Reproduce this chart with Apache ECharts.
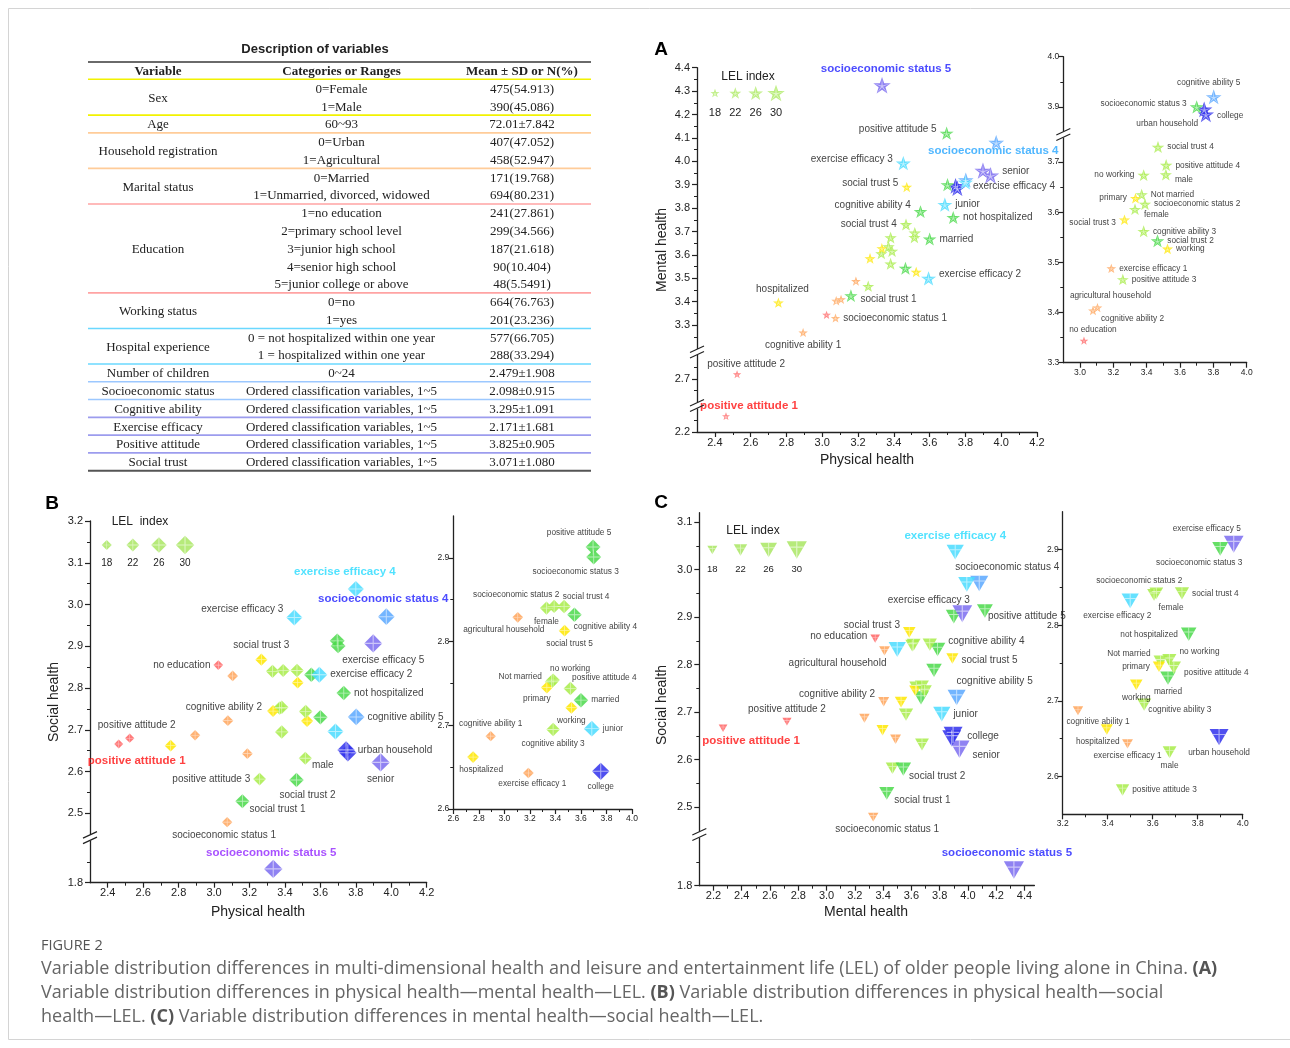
<!DOCTYPE html>
<html><head><meta charset="utf-8">
<script src="https://cdn.jsdelivr.net/npm/echarts@6/dist/echarts.min.js"></script>
<style>html,body{margin:0;padding:0;background:#fff}#c{width:1290px;height:1048px}</style>
</head><body><div id="c"></div><script>
// ---------------- DATA ----------------
const categories = ['female','male','urban household','agricultural household','married','Not married','no education','primary','junior','senior','college','working','no working','hospitalized','not hospitalized',
 'socioeconomic status 1','socioeconomic status 2','socioeconomic status 3','socioeconomic status 4','socioeconomic status 5',
 'cognitive ability 1','cognitive ability 2','cognitive ability 3','cognitive ability 4','cognitive ability 5',
 'exercise efficacy 1','exercise efficacy 2','exercise efficacy 3','exercise efficacy 4','exercise efficacy 5',
 'positive attitude 1','positive attitude 2','positive attitude 3','positive attitude 4','positive attitude 5',
 'social trust 1','social trust 2','social trust 3','social trust 4','social trust 5'];
const physicalHealth = [3.330,3.515,3.745,3.105,3.600,3.370,3.024,3.333,3.685,3.940,3.755,3.525,3.382,2.755,3.732,
 3.074,3.390,3.700,3.972,3.334, 2.893,3.078,3.382,3.549,3.802, 3.188,3.594,3.453,3.800,3.898, 2.462,2.524,3.257,3.517,3.695, 3.160,3.465,3.267,3.468,3.472];
const mentalHealth = [3.606,3.675,3.895,3.410,3.668,3.635,3.344,3.628,3.815,3.940,3.885,3.527,3.674,3.396,3.760,
 3.330,3.616,3.900,4.080,4.325, 3.268,3.404,3.562,3.785,3.920, 3.488,3.500,3.992,3.910,3.960, 2.268,2.720,3.466,3.694,4.120, 3.426,3.543,3.585,3.730,3.890];
const socialHealth = [2.840,2.632,2.652,2.829,2.730,2.752,2.855,2.745,2.696,2.622,2.645,2.721,2.754,2.662,2.788,
 2.479,2.842,2.901,2.971,1.833, 2.687,2.722,2.695,2.832,2.731, 2.643,2.832,2.969,3.037,2.907, 2.666,2.680,2.582,2.744,2.913, 2.529,2.580,2.868,2.842,2.813];
const lelIndex = [22.5,22.5,28.5,19,24.5,22.8,17.5,20.8,26.5,30,28.5,21,22.8,20.5,24.5,
 18.5,22.5,25,27.5,30, 18.5,19.2,23,24.5,27.5, 19,26.5,26.5,26.5,29.5, 16.5,17,22,23,25, 24,24.5,21,23,20.5];
const lelLegendValues = [18,22,26,30];

const tableVariables = [['Sex',2],['Age',1],['Household registration',2],['Marital status',2],['Education',5],['Working status',2],['Hospital experience',2],['Number of children',1],['Socioeconomic status',1],['Cognitive ability',1],['Exercise efficacy',1],['Positive attitude',1],['Social trust',1]];
const tableCategories = ['0=Female','1=Male','60~93','0=Urban','1=Agricultural','0=Married','1=Unmarried, divorced, widowed','1=no education','2=primary school level','3=junior high school','4=senior high school','5=junior college or above','0=no','1=yes','0 = not hospitalized within one year','1 = hospitalized within one year','0~24','Ordered classification variables, 1~5','Ordered classification variables, 1~5','Ordered classification variables, 1~5','Ordered classification variables, 1~5','Ordered classification variables, 1~5'];
const tableValues = ['475(54.913)','390(45.086)','72.01±7.842','407(47.052)','458(52.947)','171(19.768)','694(80.231)','241(27.861)','299(34.566)','187(21.618)','90(10.404)','48(5.5491)','664(76.763)','201(23.236)','577(66.705)','288(33.294)','2.479±1.908','2.098±0.915','3.295±1.091','2.171±1.681','3.825±0.905','3.071±1.080'];
const tableHeader = ['Variable','Categories or Ranges','Mean ± SD or N(%)'];
const captionLines = [
 'Variable distribution differences in multi-dimensional health and leisure and entertainment life (LEL) of older people living alone in China. {b|(A)}',
 'Variable distribution differences in physical health\u2014mental health\u2014LEL. {b|(B)} Variable distribution differences in physical health\u2014social',
 'health\u2014LEL. {b|(C)} Variable distribution differences in mental health\u2014social health\u2014LEL.'];

// ---------------- STYLE / LAYOUT ----------------
const FONT = 'Liberation Sans, Arial, Helvetica, sans-serif';
const SERIF = 'Liberation Serif, Times New Roman, serif';
const CAPFONT = 'Open Sans, Liberation Sans, sans-serif';
function quad(x1,y1,x2,y2,h){ const dx=x2-x1, dy=y2-y1, L=Math.hypot(dx,dy), nx=-dy/L*h, ny=dx/L*h;
  return `M${(x1+nx).toFixed(2)},${(y1+ny).toFixed(2)} L${(x2+nx).toFixed(2)},${(y2+ny).toFixed(2)} L${(x2-nx).toFixed(2)},${(y2-ny).toFixed(2)} L${(x1-nx).toFixed(2)},${(y1-ny).toFixed(2)} Z `; }
function spike(x1,y1,x2,y2,h){ const dx=x2-x1, dy=y2-y1, L=Math.hypot(dx,dy), nx=-dy/L*h, ny=dx/L*h;
  return `M${(x1+nx).toFixed(2)},${(y1+ny).toFixed(2)} L${x2},${y2} L${(x1-nx).toFixed(2)},${(y1-ny).toFixed(2)} Z `; }
const dot = (x,y) => `M${x},${y} L${x+0.01},${y} L${x},${y+0.01} Z `;
const starTips = [[50,0],[97.6,35.1],[79.4,90.9],[20.6,90.9],[2.4,35.1]];
const STAR = 'path://M50,0 L61.8,35.1 L97.6,35.1 L68.8,56.7 L79.4,90.9 L50,70 L20.6,90.9 L31.2,56.7 L2.4,35.1 L38.2,35.1 Z';
const STAR_X = 'path://' + starTips.map(([x,y]) => spike(50,52,x,y,3.5)).join('') + dot(2.4,0) + dot(97.59,90.89);
const DIAMOND_X = 'path://' + quad(50,0,50,100,3) + quad(0,50,100,50,3);
const TRI = 'path://M0,0 L100,0 L50,86 Z';
const TRI_X = 'path://' + quad(50,0,50,86,3) + quad(17,29,83,29,3) + dot(0,0) + dot(99.99,85.99);
const lelColorStops = [[18,'#ff6464'],[20,'#ffa55a'],[22,'#ffe800'],[24,'#a8ec4a'],[26,'#4ad94a'],[27,'#4adcff'],[28,'#5aa8ff'],[29.5,'#3030ec'],[99,'#7b6cf0']];
function lelColor(v){ for (const [th,c] of lelColorStops) if (v < th) return c; return '#7b6cf0'; }
const sizeA = L => 9 + (L-18)*0.7;
const sizeB = L => 10 + (L-18)*0.7;
const sizeC = L => 10 + (L-18)*0.85;

function makeBreak(breaks){ return v => { let t=v; breaks.forEach(([f,to,g])=>{ if (v >= to-1e-9) t -= (to-f-g); }); return t; }; }
function range(a,b,s){ const o=[]; for(let v=a; v<=b+1e-9; v+=s) o.push(+v.toFixed(3)); return o; }

const labelsAMain = {
 'socioeconomic status 5':['top',4,1,'#2b2bff'], 'positive attitude 5':['left',0,-4],
 'socioeconomic status 4':['bottom',-3,-8,'#33aaff'], 'exercise efficacy 3':['left',0,-4],
 'social trust 5':['left',0,-4], 'cognitive ability 4':['left',0,-6], 'social trust 4':['left',0,0],
 'senior':['right',0,-4], 'exercise efficacy 4':['right',-3,4], 'junior':['right',0,0],
 'not hospitalized':['right',0,0], 'married':['right',0,0], 'exercise efficacy 2':['right',0,-4],
 'social trust 1':['right',0,4], 'hospitalized':['top',4,0], 'socioeconomic status 1':['right',0,0],
 'cognitive ability 1':['bottom',0,0], 'positive attitude 2':['top',9,2], 'positive attitude 1':['top',23,3,'#ff2020']};
const labelsAInset = {
 'cognitive ability 5':['top',-5,0], 'socioeconomic status 3':['left',0,-3], 'college':['right',0,1],
 'urban household':['bottom',-37,0], 'social trust 4':['right',0,0], 'positive attitude 4':['right',0,1],
 'male':['right',0,5], 'no working':['left',0,0], 'Not married':['right',0,0], 'primary':['left',0,0],
 'socioeconomic status 2':['right',0,0], 'female':['right',0,6], 'social trust 3':['left',0,3],
 'cognitive ability 3':['right',0,0], 'social trust 2':['right',0,0], 'working':['right',0,0],
 'exercise efficacy 1':['right',0,0], 'positive attitude 3':['right',0,0], 'agricultural household':['top',13,0],
 'cognitive ability 2':['right',0,8], 'no education':['top',9,0]};
const labelsBMain = {
 'exercise efficacy 4':['top',-11,0,'#33ddff'], 'socioeconomic status 4':['top',-3,0,'#2b2bff'],
 'exercise efficacy 3':['left',0,-8], 'social trust 3':['top',0,0], 'exercise efficacy 5':['bottom',10,0],
 'no education':['left',0,0], 'exercise efficacy 2':['right',0,0], 'not hospitalized':['right',0,0],
 'cognitive ability 2':['top',-4,0], 'cognitive ability 5':['right',0,0], 'positive attitude 2':['top',7,0],
 'positive attitude 1':['bottom',18,3,'#ff2020'], 'urban household':['right',0,0], 'male':['right',-3,7],
 'senior':['bottom',0,0], 'positive attitude 3':['left',0,0], 'social trust 2':['bottom',11,0],
 'social trust 1':['right',-3,8], 'socioeconomic status 1':['bottom',-3,0], 'socioeconomic status 5':['top',-2,2,'#9933ff']};
const labelsBInset = {
 'positive attitude 5':['top',-14,0], 'socioeconomic status 3':['bottom',-18,0], 'socioeconomic status 2':['top',-38,2],
 'social trust 4':['top',22,4], 'female':['bottom',0,0], 'cognitive ability 4':['bottom',31,-2],
 'agricultural household':['bottom',-14,0], 'social trust 5':['bottom',5,0], 'no working':['top',17,2],
 'Not married':['left',0,-5], 'primary':['bottom',-10,-2], 'positive attitude 4':['top',34,3], 'married':['right',0,0],
 'working':['bottom',0,0], 'junior':['right',0,0], 'cognitive ability 3':['bottom',0,0], 'cognitive ability 1':['top',0,0],
 'hospitalized':['bottom',8,0], 'exercise efficacy 1':['bottom',4,-2], 'college':['bottom',0,0]};
const labelsCMain = {
 'exercise efficacy 4':['top',0,0,'#33ddff'], 'socioeconomic status 4':['top',28,0], 'exercise efficacy 3':['bottom',-38,0],
 'positive attitude 5':['right',-8,5], 'social trust 3':['left',0,-7], 'no education':['left',0,-2],
 'cognitive ability 4':['right',0,-8], 'agricultural household':['bottom',-47,0], 'social trust 5':['right',0,2],
 'cognitive ability 5':['top',38,0], 'cognitive ability 2':['left',0,-7], 'positive attitude 2':['top',0,0],
 'junior':['right',0,0], 'positive attitude 1':['bottom',28,0,'#ff2020'], 'college':['right',3,-2], 'senior':['right',0,6],
 'social trust 2':['right',-5,7], 'social trust 1':['right',-3,7], 'socioeconomic status 1':['bottom',14,0],
 'socioeconomic status 5':['top',-7,0,'#2b2bff']};
const labelsCInset = {
 'exercise efficacy 5':['top',-27,0], 'socioeconomic status 3':['bottom',-21,0], 'socioeconomic status 2':['top',-17,0],
 'female':['bottom',17,0], 'social trust 4':['right',0,0], 'exercise efficacy 2':['bottom',-13,0],
 'not hospitalized':['left',0,0], 'Not married':['left',0,-8], 'no working':['right',0,-8], 'primary':['left',0,0],
 'positive attitude 4':['right',0,5], 'married':['bottom',0,0], 'working':['bottom',0,0], 'cognitive ability 3':['right',-6,5],
 'cognitive ability 1':['bottom',20,0], 'hospitalized':['bottom',-9,0], 'exercise efficacy 1':['bottom',0,0],
 'urban household':['bottom',0,0], 'male':['bottom',0,0], 'positive attitude 3':['right',0,0]};

const panels = [
 {grid:{left:697,top:67.7,width:340,height:364.3}, xData:physicalHealth, yData:mentalHealth, symbol:STAR, symbolX:STAR_X, size:sizeA,
  xMin:2.3,xMax:4.2,xMajor:range(2.4,4.2,0.2),xMinor:range(2.5,4.1,0.2),
  yMin:2.2,yMax:4.4,yBreaks:[[2.3,2.6,0.027],[2.8,3.2,0.03]],yMajor:[2.2,2.7].concat(range(3.3,4.4,0.1)),yMinor:[2.25,2.65,2.75].concat(range(3.25,4.35,0.1)),
  labels:labelsAMain, subset:false, fs:10, tickFs:11, xMargin:5, yMargin:7},
 {grid:{left:1063.3,top:56.7,width:183.4,height:306}, xData:physicalHealth, yData:mentalHealth, symbol:STAR, symbolX:STAR_X, size:sizeA,
  xMin:2.9,xMax:4.0,xMajor:range(3.0,4.0,0.2),xMinor:range(3.1,3.9,0.2),
  yMin:3.3,yMax:4.0,yBreaks:[[3.75,3.85,0.01]],yMajor:[3.3,3.4,3.5,3.6,3.7,3.9,4.0],yMinor:[3.35,3.45,3.55,3.65,3.95],
  labels:labelsAInset, subset:true, fs:8.3, tickFs:8.5, xMargin:5, yMargin:4},
 {grid:{left:90,top:521,width:336.7,height:361.7}, xData:physicalHealth, yData:socialHealth, symbol:'diamond', symbolX:DIAMOND_X, size:sizeB,
  xMin:2.3,xMax:4.2,xMajor:range(2.4,4.2,0.2),xMinor:range(2.5,4.1,0.2),
  yMin:1.8,yMax:3.2,yBreaks:[[1.9,2.45,0.016]],yMajor:[1.8].concat(range(2.5,3.2,0.1)),yMinor:[1.85].concat(range(2.55,3.15,0.1)),
  labels:labelsBMain, subset:false, fs:10, tickFs:11, xMargin:5, yMargin:7},
 {grid:{left:453.3,top:516,width:178.7,height:293}, xData:physicalHealth, yData:socialHealth, symbol:'diamond', symbolX:DIAMOND_X, size:sizeB,
  xMin:2.6,xMax:4.0,xMajor:range(2.6,4.0,0.2),xMinor:range(2.7,3.9,0.2),
  yMin:2.6,yMax:2.95,yBreaks:[],yMajor:[2.6,2.7,2.8,2.9],yMinor:[2.65,2.75,2.85],
  labels:labelsBInset, subset:true, fs:8.3, tickFs:8.5, xMargin:5, yMargin:4},
 {grid:{left:699.3,top:512.7,width:335.1,height:373}, xData:mentalHealth, yData:socialHealth, symbol:TRI, symbolX:TRI_X, size:sizeC,
  xMin:2.1,xMax:4.47,xMajor:range(2.2,4.4,0.2),xMinor:range(2.3,4.3,0.2),
  yMin:1.8,yMax:3.12,yBreaks:[[1.9,2.45,0.0154]],yMajor:[1.8].concat(range(2.5,3.1,0.1)),yMinor:[1.85].concat(range(2.55,3.05,0.1)),
  labels:labelsCMain, subset:false, fs:10, tickFs:11, xMargin:5, yMargin:7},
 {grid:{left:1062.7,top:511.7,width:180,height:302.6}, xData:mentalHealth, yData:socialHealth, symbol:TRI, symbolX:TRI_X, size:sizeC,
  xMin:3.2,xMax:4.0,xMajor:range(3.2,4.0,0.2),xMinor:range(3.3,3.9,0.2),
  yMin:2.55,yMax:2.95,yBreaks:[],yMajor:[2.6,2.7,2.8,2.9],yMinor:[2.65,2.75,2.85],
  labels:labelsCInset, subset:true, fs:8.3, tickFs:8.5, xMargin:5, yMargin:4}
];
const legends = [
 {grid:{left:709.9,top:92,width:71.2,height:2}, symbol:STAR, symbolX:STAR_X, size:sizeA, fs:11, margin:13, color:'#b4ec70'},
 {grid:{left:100.2,top:544,width:91.35,height:2}, symbol:'diamond', symbolX:DIAMOND_X, size:sizeB, fs:10, margin:12, color:'#aee86c'},
 {grid:{left:705.3,top:549,width:98.5,height:2}, symbol:TRI, symbolX:TRI_X, size:sizeC, fs:9.5, margin:13, color:'#aee86c'}
];

// ---------------- BUILD ----------------
function axisPair(dim, gridIndex, min, max, tf, major, minor, font, margin){
  const map = {}; major.forEach(v => { map[tf(v).toFixed(6)] = v.toFixed(1); });
  const pos = dim === 'x' ? 'bottom' : 'left';
  const base = {type:'value', gridIndex, position:pos, offset:0, min:tf(min), max:tf(max), splitLine:{show:false}, axisPointer:{show:false}};
  const main = Object.assign({}, base, {
    axisLine:{show:true, onZero:false, lineStyle:{color:'#222', width:1.3}},
    axisTick:{show:true, inside:false, length:5, lineStyle:{color:'#222', width:1.2}, customValues:major.map(tf)},
    axisLabel:{show:true, customValues:major.map(tf), formatter:v => (map[Number(v).toFixed(6)] ?? ''), fontSize:font, fontFamily:FONT, color:'#222', margin, hideOverlap:false}
  });
  const minorAx = Object.assign({}, base, {
    axisLine:{show:false, onZero:false},
    axisTick:{show:true, inside:false, length:3, lineStyle:{color:'#222', width:1}, customValues:minor.map(tf)},
    axisLabel:{show:false}
  });
  return [main, minorAx];
}
function labelCfg(l, fs){
  if (!l) return {show:false};
  const bold = !!l[3];
  return {show:true, position:l[0], offset:[l[1]||0, l[2]||0], distance:3, formatter:'{b}', fontFamily:FONT,
    fontSize: bold ? fs+1.5 : fs, fontWeight: bold ? 'bold' : 'normal', color: l[3] || '#222'};
}
const grids=[], xAxes=[], yAxes=[], series=[];
panels.forEach((p,k) => {
  p.tf = makeBreak(p.yBreaks);
  grids.push(Object.assign({containLabel:false}, p.grid));
  xAxes.push(...axisPair('x', k, p.xMin, p.xMax, v=>v, p.xMajor, p.xMinor, p.tickFs, p.xMargin));
  yAxes.push(...axisPair('y', k, p.yMin, p.yMax, p.tf, p.yMajor, p.yMinor, p.tickFs, p.yMargin));
  const ids = categories.map((c,i)=>i).filter(i => !p.subset || (categories[i] in p.labels));
  const base = {type:'scatter', xAxisIndex:2*k, yAxisIndex:2*k, clip:false, symbol:p.symbol, symbolKeepAspect:true,
    symbolSize: v => p.size(v[2]), itemStyle:{color: prm => lelColor(prm.value[2]), opacity:0.85},
    emphasis:{disabled:true}, silent:true, z:2,
    data: ids.map(i => ({name:categories[i], value:[p.xData[i], p.tf(p.yData[i]), lelIndex[i]], label:labelCfg(p.labels[categories[i]], p.fs)}))};
  series.push(base);
  series.push(Object.assign({}, base, {symbol:p.symbolX, itemStyle:{color:'#ffffff', opacity:0.55}, z:3,
    data: base.data.map(d => ({name:d.name, value:d.value, label:{show:false}}))}));
});
legends.forEach((lg,j) => {
  const gi = panels.length + j;
  grids.push(Object.assign({containLabel:false}, lg.grid));
  xAxes.push({type:'value', gridIndex:gi, position:'bottom', min:17, max:31, axisLine:{show:false}, axisTick:{show:false}, splitLine:{show:false},
    axisLabel:{customValues:lelLegendValues, formatter:v=>String(v), fontSize:lg.fs, fontFamily:FONT, color:'#222', margin:lg.margin}});
  yAxes.push({type:'value', gridIndex:gi, min:-1, max:1, show:false});
  const base = {type:'scatter', xAxisIndex:xAxes.length-1, yAxisIndex:yAxes.length-1, clip:false, symbol:lg.symbol, symbolKeepAspect:true,
    symbolSize: v => lg.size(v[0]), itemStyle:{color:lg.color, opacity:0.9}, silent:true, z:2,
    data: lelLegendValues.map(v => [v, 0])};
  series.push(base);
  series.push(Object.assign({}, base, {symbol:lg.symbolX, itemStyle:{color:'#ffffff', opacity:0.55}, z:3}));
});

// static graphics
const T = (text, x, y, o={}) => ({type:'text', x, y, rotation:o.rot||0, silent:true, z:50,
  style:{text, x:0, y:0, fill:o.fill||'#222', font:o.font||('12px '+FONT), textAlign:o.align||'center', textVerticalAlign:'middle', align:o.align||'center', verticalAlign:'middle', rich:o.rich}});
const Ln = (x1,y1,x2,y2,color,w) => ({type:'line', silent:true, shape:{x1,y1,x2,y2}, style:{stroke:color, lineWidth:w}});
const g = [];
g.push({type:'rect', silent:true, shape:{x:8.5,y:8.5,width:1300,height:1031}, style:{fill:'none', stroke:'#d4d4d4', lineWidth:1}});
// table
g.push(T('Description of variables', 315, 49, {font:'bold 13px '+FONT}));
g.push(Ln(88,62,591,62,'#6a6a6a',2));
[158,341.5,522].forEach((cx,i)=> g.push(T(tableHeader[i], cx, 72, {font:'bold 13px '+SERIF})));
g.push(Ln(88,79.3,591,79.3,'#f2f200',1.6));
const groupColors = ['#f2f200','#ffcc99','#ffcc99','#ffa3a3','#ffa3a3','#6ad8ff','#6ad8ff','#9cc8ff','#9cc8ff','#9c9cee','#9c9cee','#9c9cee','#555'];
let row = 0;
tableVariables.forEach(([name,n],gi) => {
  const y0 = 89.3 + row*17.78, y1 = 89.3 + (row+n-1)*17.78;
  g.push(T(name, 158, (y0+y1)/2, {font:'13px '+SERIF}));
  for (let j=0;j<n;j++){
    const y = 89.3 + (row+j)*17.78;
    g.push(T(tableCategories[row+j], 341.5, y, {font:'13px '+SERIF}));
    g.push(T(tableValues[row+j], 522, y, {font:'13px '+SERIF}));
  }
  const last = gi === tableVariables.length-1;
  g.push(Ln(88, y1+8, 591, y1+8, groupColors[gi], last?2:1.6));
  row += n;
});
// panel letters, titles, legends text
g.push(T('A', 661, 50, {font:'bold 19px '+FONT, fill:'#000'}));
g.push(T('B', 52, 504, {font:'bold 19px '+FONT, fill:'#000'}));
g.push(T('C', 661, 503, {font:'bold 19px '+FONT, fill:'#000'}));
g.push(T('Mental health', 662, 250, {font:'14px '+FONT, rot:Math.PI/2}));
g.push(T('Physical health', 867, 460, {font:'14px '+FONT}));
g.push(T('Social health', 54, 702, {font:'14px '+FONT, rot:Math.PI/2}));
g.push(T('Physical health', 258, 912, {font:'14px '+FONT}));
g.push(T('Social health', 662, 705, {font:'14px '+FONT, rot:Math.PI/2}));
g.push(T('Mental health', 866, 912, {font:'14px '+FONT}));
g.push(T('LEL index', 748, 77, {font:'12px '+FONT}));
g.push(T('LEL  index', 140, 522, {font:'12px '+FONT}));
g.push(T('LEL index', 753, 531, {font:'12px '+FONT}));
// caption
g.push(T('FIGURE 2', 41, 946, {font:'14.5px '+CAPFONT, fill:'#555', align:'left'}));
captionLines.forEach((s,i) => g.push(T(s, 41, 969+i*24, {font:'18px '+CAPFONT, fill:'#666', align:'left', rich:{b:{fontWeight:'bold', fontSize:18, fontFamily:CAPFONT, fill:'#555', color:'#555'}}})));

const chart = echarts.init(document.getElementById('c'), null, {renderer:'canvas', width:1290, height:1048});
chart.setOption({animation:false, backgroundColor:'#fff', grid:grids, xAxis:xAxes, yAxis:yAxes, series});

// break marks on the y axes, positioned through the axes
function breakMark(x,y){ return [
  {type:'rect', silent:true, z:100, shape:{x:x-3,y:y-3,width:6,height:6}, style:{fill:'#fff'}},
  {type:'line', silent:true, z:101, shape:{x1:x-7,y1:y+0.5,x2:x+7,y2:y-6}, style:{stroke:'#222', lineWidth:1.2}},
  {type:'line', silent:true, z:101, shape:{x1:x-7,y1:y+6,x2:x+7,y2:y-0.5}, style:{stroke:'#222', lineWidth:1.2}}]; }
panels.forEach((p,k) => {
  p.yBreaks.forEach(([f,to,gap]) => {
    const tb = p.tf(f) + gap/2;
    const pt = chart.convertToPixel({xAxisIndex:2*k, yAxisIndex:2*k}, [p.xMin, tb]);
    g.push(...breakMark(pt[0], pt[1]));
  });
});
chart.setOption({graphic:{elements:g}});
</script></body></html>
